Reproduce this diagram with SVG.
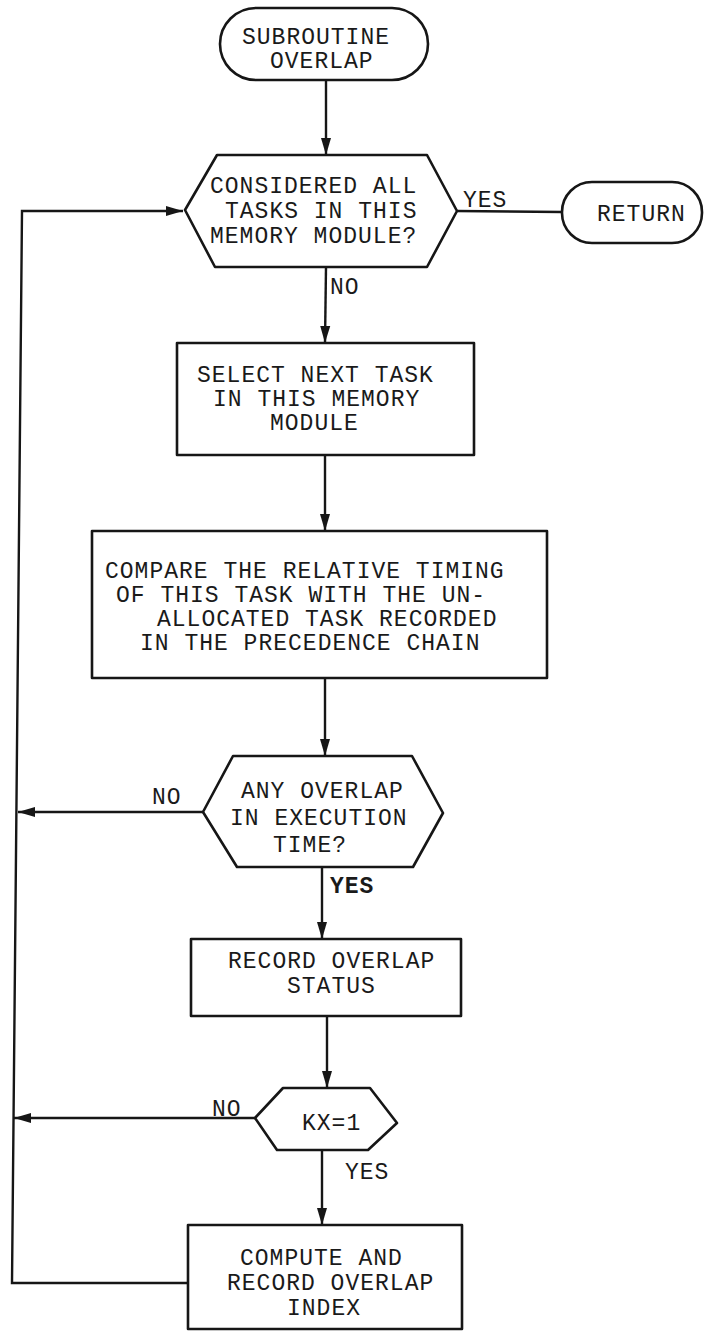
<svg xmlns="http://www.w3.org/2000/svg" width="704" height="1335" viewBox="0 0 704 1335">
  <style>
    .shape { fill: #fff; stroke: #161616; stroke-width: 2.6; stroke-linejoin: round; }
    .wire { fill: none; stroke: #161616; stroke-width: 2.4; }
    .lbl { font-family: "Liberation Mono", "DejaVu Sans Mono", monospace; font-size: 23px; letter-spacing: 1px; fill: #1a1a1a; }
    .bold { font-weight: bold; }
  </style>
  <defs>
    <marker id="arrow" markerUnits="userSpaceOnUse" markerWidth="18" markerHeight="11" refX="17" refY="5.5" orient="auto">
      <path d="M0,0.5 L17,5.5 L0,10.5 Z" fill="#161616"/>
    </marker>
  </defs>
  <rect width="704" height="1335" fill="#fff"/>

  <!-- connectors -->
  <g id="connectors">
    <line class="wire" x1="326" y1="80" x2="326" y2="155" marker-end="url(#arrow)"/>
    <line class="wire" x1="457" y1="211" x2="562" y2="212"/>
    <line class="wire" x1="326" y1="267" x2="325" y2="343" marker-end="url(#arrow)"/>
    <line class="wire" x1="325" y1="455" x2="325" y2="531" marker-end="url(#arrow)"/>
    <line class="wire" x1="325" y1="678" x2="325" y2="756" marker-end="url(#arrow)"/>
    <line class="wire" x1="203" y1="812" x2="18" y2="812" marker-end="url(#arrow)"/>
    <line class="wire" x1="322" y1="867" x2="322" y2="939" marker-end="url(#arrow)"/>
    <line class="wire" x1="327" y1="1016" x2="327" y2="1088" marker-end="url(#arrow)"/>
    <line class="wire" x1="255" y1="1118" x2="14" y2="1118" marker-end="url(#arrow)"/>
    <line class="wire" x1="322" y1="1150" x2="322" y2="1225" marker-end="url(#arrow)"/>
    <!-- loop back to the task test -->
    <polyline class="wire" points="188,1283 12,1283 22,211 183,211" marker-end="url(#arrow)"/>
  </g>

  <g id="start">
    <rect class="shape" x="220" y="8" width="208" height="72" rx="36" ry="36"/>
    <text class="lbl" x="242" y="44">SUBROUTINE</text>
    <text class="lbl" x="270" y="68">OVERLAP</text>
  </g>

  <g id="all-tasks-test">
    <polygon class="shape" points="185,210 217,155 427,155 457,211 427,267 215,267"/>
    <text class="lbl" x="210" y="193">CONSIDERED ALL</text>
    <text class="lbl" x="225" y="218">TASKS IN THIS</text>
    <text class="lbl" x="210" y="243">MEMORY MODULE?</text>
    <text class="lbl" x="463" y="207">YES</text>
    <text class="lbl" x="330" y="294">NO</text>
  </g>

  <g id="return">
    <rect class="shape" x="562" y="182" width="140" height="61" rx="30" ry="30"/>
    <text class="lbl" x="597" y="221">RETURN</text>
  </g>

  <g id="select-task">
    <rect class="shape" x="177" y="343" width="297" height="112"/>
    <text class="lbl" x="197" y="382">SELECT NEXT TASK</text>
    <text class="lbl" x="213" y="406">IN THIS MEMORY</text>
    <text class="lbl" x="270" y="430">MODULE</text>
  </g>

  <g id="compare-timing">
    <rect class="shape" x="92" y="531" width="455" height="147"/>
    <text class="lbl" x="105" y="578">COMPARE THE RELATIVE TIMING</text>
    <text class="lbl" x="116" y="602">OF THIS TASK WITH THE UN-</text>
    <text class="lbl" x="157" y="626">ALLOCATED TASK RECORDED</text>
    <text class="lbl" x="140" y="650">IN THE PRECEDENCE CHAIN</text>
  </g>

  <g id="overlap-test">
    <polygon class="shape" points="203,812 233,756 412,756 443,813 413,867 237,867"/>
    <text class="lbl" x="241" y="798">ANY OVERLAP</text>
    <text class="lbl" x="230" y="825">IN EXECUTION</text>
    <text class="lbl" x="273" y="852">TIME?</text>
    <text class="lbl" x="152" y="804">NO</text>
    <text class="lbl bold" x="330" y="893">YES</text>
  </g>

  <g id="record-status">
    <rect class="shape" x="191" y="939" width="270" height="77"/>
    <text class="lbl" x="228" y="968">RECORD OVERLAP</text>
    <text class="lbl" x="287" y="993">STATUS</text>
  </g>

  <g id="kx-test">
    <polygon class="shape" points="255,1118 283,1088 370,1088 397,1123 368,1150 277,1150"/>
    <text class="lbl" x="302" y="1130">KX=1</text>
    <text class="lbl" x="212" y="1116">NO</text>
    <text class="lbl" x="345" y="1179">YES</text>
  </g>

  <g id="compute-index">
    <rect class="shape" x="188" y="1225" width="274" height="104"/>
    <text class="lbl" x="240" y="1265">COMPUTE AND</text>
    <text class="lbl" x="227" y="1290">RECORD OVERLAP</text>
    <text class="lbl" x="287" y="1315">INDEX</text>
  </g>
</svg>
